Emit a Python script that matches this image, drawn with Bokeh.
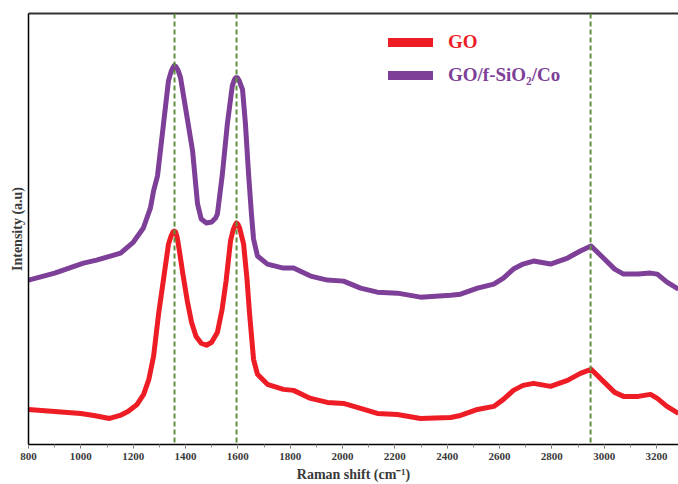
from bokeh.plotting import figure
from bokeh.models import (Range1d, Span, Legend, LegendItem, LinearAxis,
                          SingleIntervalTicker, FixedTicker)
from bokeh.embed import file_html
from bokeh.resources import INLINE

# ---------------- data ----------------
go_x = [800, 900, 1000, 1050, 1110, 1150, 1180, 1215, 1240, 1260, 1278, 1297,
        1316, 1335, 1345, 1352, 1357, 1362, 1368, 1375, 1390, 1407, 1423, 1440,
        1460, 1480, 1500, 1522, 1540, 1555, 1572, 1582, 1590, 1595, 1600, 1607,
        1622, 1635, 1645, 1660, 1675, 1713, 1774, 1813, 1878, 1942, 2004, 2069,
        2133, 2210, 2298, 2413, 2451, 2516, 2578, 2615, 2653, 2690, 2730, 2795,
        2860, 2909, 2950, 2997, 3040, 3074, 3130, 3177, 3203, 3240, 3284]
go_y = [35, 33, 31, 29, 26, 29, 33, 40, 50, 65, 88, 130,
        165, 200, 208, 212, 213, 212, 207, 196, 170, 143, 122, 108,
        101, 99, 102, 112, 135, 163, 203, 214, 219, 221, 220, 216,
        200, 165, 130, 85, 70, 60, 55, 54, 46, 42, 41, 36,
        31, 30, 26, 27, 29, 35, 38, 45, 54, 59, 61, 58,
        64, 71, 75, 63, 52, 48, 48, 50, 46, 38, 31]

comp_x = [800, 900, 1010, 1060, 1113, 1152, 1201, 1239, 1266, 1278, 1293, 1316,
          1335, 1345, 1352, 1357, 1363, 1372, 1381, 1400, 1427, 1446, 1460, 1480,
          1500, 1515, 1522, 1541, 1560, 1579, 1587, 1592, 1598, 1605, 1618, 1629,
          1641, 1652, 1660, 1675, 1713, 1774, 1813, 1878, 1942, 2004, 2069, 2133,
          2210, 2298, 2413, 2451, 2516, 2578, 2615, 2653, 2690, 2730, 2795, 2860,
          2909, 2950, 2997, 3040, 3074, 3130, 3177, 3203, 3240, 3284]
comp_y = [164, 171, 181, 184, 188, 191, 202, 216, 236, 253, 268, 320,
          363, 372, 376, 378, 377, 373, 366, 336, 293, 240, 225, 221,
          222, 226, 230, 270, 320, 358, 364, 366, 366, 363, 354, 320,
          270, 230, 205, 188, 180, 176, 176, 168, 164, 163, 156, 152,
          151, 147, 149, 150, 156, 160, 166, 175, 180, 183, 180, 186,
          193, 198, 186, 175, 170, 170, 171, 170, 162, 155]

peak_lines = [1358, 1595, 2948]
series_labels = ["GO", "GO/f-SiO\u2082/Co"]
x_label = "Raman shift (cm\u207b\u00b9)"
y_label = "Intensity (a.u)"

RED = "#ee1c25"
PURPLE = "#7e3f98"
GREEN = "#5e8f3e"
FONT = "Liberation Serif"

p = figure(width=678, height=484, output_backend="svg", toolbar_location=None,
           x_range=Range1d(800, 3284), y_range=Range1d(0, 430),
           min_border_left=28, min_border_right=0, min_border_top=13,
           min_border_bottom=20)
p.grid.visible = False
p.outline_line_color = None
p.background_fill_color = "white"

# dashed peak markers
for xv in peak_lines:
    p.add_layout(Span(location=xv, dimension="height", line_color=GREEN,
                      line_width=2, line_dash="5 3"))

r_go = p.line(go_x, go_y, line_color=RED, line_width=5, line_join="round")
r_comp = p.line(comp_x, comp_y, line_color=PURPLE, line_width=5, line_join="round")

# x axis
xa = p.xaxis[0]
xa.ticker = SingleIntervalTicker(interval=200, num_minor_ticks=2)
xa.axis_line_color = "black"
xa.axis_line_width = 1.5
xa.major_tick_in = 0
xa.major_tick_out = 4
xa.minor_tick_in = 0
xa.minor_tick_out = 3
xa.major_tick_line_color = "#666666"
xa.minor_tick_line_color = "#888888"
xa.major_label_text_font = FONT
xa.major_label_text_font_style = "bold"
xa.major_label_text_font_size = "11px"
xa.major_label_text_color = "#3a3a3a"
xa.major_label_standoff = 4
xa.axis_label = x_label
xa.axis_label_text_font = FONT
xa.axis_label_text_font_style = "bold"
xa.axis_label_text_font_size = "14px"
xa.axis_label_text_color = "#3a3a3a"
xa.axis_label_standoff = 4

# y axis
ya = p.yaxis[0]
ya.ticker = FixedTicker(ticks=[])
ya.major_tick_line_color = None
ya.minor_tick_line_color = None
ya.major_label_text_font_size = "0px"
ya.axis_line_color = "black"
ya.axis_line_width = 1.5
ya.axis_label = y_label
ya.axis_label_text_font = FONT
ya.axis_label_text_font_style = "bold"
ya.axis_label_text_font_size = "14px"
ya.axis_label_text_color = "#3a3a3a"
ya.axis_label_standoff = 4

# top border
top = LinearAxis(ticker=FixedTicker(ticks=[]), major_tick_line_color=None,
                 minor_tick_line_color=None, major_label_text_font_size="0px",
                 axis_line_color="#333333", axis_line_width=2)
p.add_layout(top, "above")

# legends (one per series so each label keeps its colour)
nan = float("nan")
leg_go = p.line([nan], [nan], line_color=RED, line_width=9, line_cap="round")
leg_comp = p.line([nan], [nan], line_color=PURPLE, line_width=9, line_cap="round")
for rend, lab, col, ypos in [(leg_go, series_labels[0], RED, 391),
                             (leg_comp, series_labels[1], PURPLE, 358)]:
    lg = Legend(items=[LegendItem(label=lab, renderers=[rend])],
                location=(360, ypos), glyph_width=45, glyph_height=20,
                label_standoff=15, padding=0, margin=0,
                border_line_color=None, background_fill_alpha=0,
                label_text_font=FONT, label_text_font_style="bold",
                label_text_font_size="19px", label_text_color=col)
    p.add_layout(lg)

open("out.html", "w").write(file_html(p, INLINE))
